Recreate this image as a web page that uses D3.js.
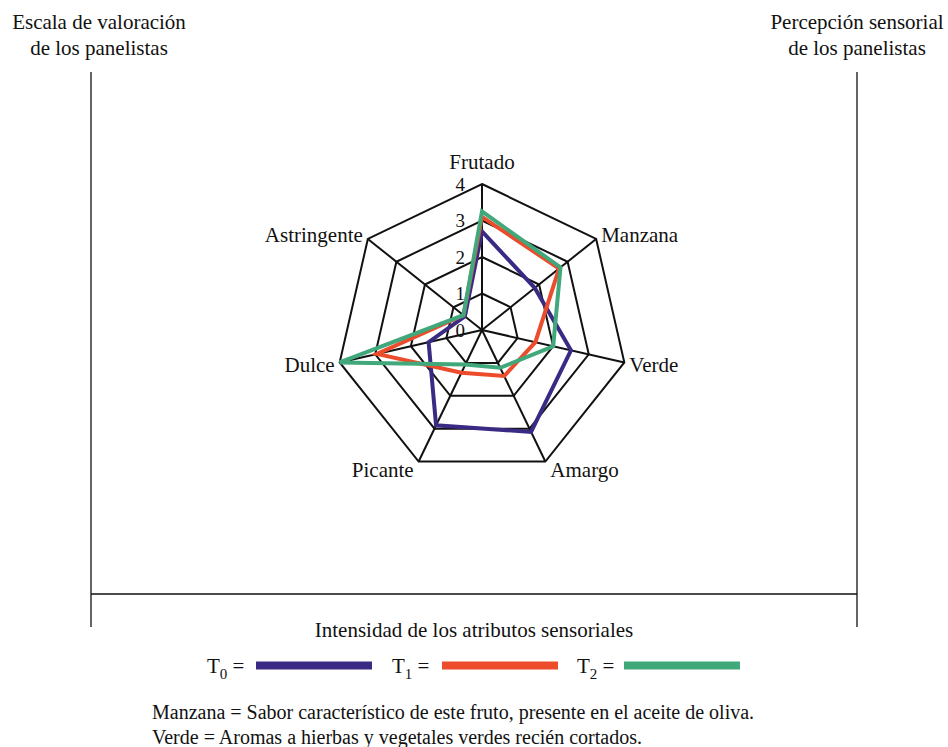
<!DOCTYPE html>
<html>
<head>
<meta charset="utf-8">
<script src="https://cdn.jsdelivr.net/npm/d3@7"></script>
<style>
  body { margin: 0; background: #fff; }
  svg text { font-family: "Liberation Serif", Tinos, "Times New Roman", "DejaVu Serif", serif; fill: #111; }
</style>
</head>
<body>
<div id="chart"></div>
<script>
// atributos (sentido horario desde arriba)
const attributes = ["Frutado", "Manzana", "Verde", "Amargo", "Picante", "Dulce", "Astringente"];
const levels = [1, 2, 3, 4];
const tickLabels = ["0", "1", "2", "3", "4"];

const seriesNames = ["T0", "T1", "T2"];
const t0 = [2.7, 1.85, 2.5, 3.1, 2.9, 1.5, 0.6];
const t1 = [3.1, 2.7, 1.5, 1.4, 1.3, 2.95, 0.65];
const t2 = [3.25, 2.75, 2.0, 1.15, 1.05, 4.0, 0.65];
const seriesColors = ["#3b2a84", "#ec4c2c", "#40a87a"];

const notes = [
  "Manzana = Sabor característico de este fruto, presente en el aceite de oliva.",
  "Verde = Aromas a hierbas y vegetales verdes recién cortados."
];

const width = 948, height = 747;
const cx = 482, cy = 330, R = 146;

const svg = d3.select("#chart").append("svg")
  .attr("width", width)
  .attr("height", height)
  .attr("viewBox", [0, 0, width, height]);

let r = d3.scaleLinear().domain([0, 4]).range([0, R]);
let angle = d3.scaleLinear().domain([0, attributes.length]).range([0, 2 * Math.PI]);

const px = (i, v) => cx + r(v) * Math.sin(angle(i));
const py = (i, v) => cy - r(v) * Math.cos(angle(i));

// marco
const frame = svg.append("g").attr("stroke", "#111").attr("stroke-width", 1.3);
frame.append("line").attr("x1", 91).attr("x2", 91).attr("y1", 72).attr("y2", 627);
frame.append("line").attr("x1", 857).attr("x2", 857).attr("y1", 72).attr("y2", 627);
frame.append("line").attr("x1", 91).attr("x2", 857).attr("y1", 594).attr("y2", 594);

// titulos superiores
const topLeft = svg.append("text").attr("text-anchor", "middle").attr("font-size", 21);
topLeft.append("tspan").attr("x", 99).attr("y", 29).text("Escala de valoración");
topLeft.append("tspan").attr("x", 99).attr("y", 55).text("de los panelistas");
const topRight = svg.append("text").attr("text-anchor", "middle").attr("font-size", 21);
topRight.append("tspan").attr("x", 857).attr("y", 29).text("Percepción sensorial");
topRight.append("tspan").attr("x", 857).attr("y", 55).text("de los panelistas");

// rejilla
const g = svg.append("g");
const radial = d3.lineRadial()
  .angle((d, i) => angle(i))
  .radius(d => r(d))
  .curve(d3.curveLinearClosed);

g.append("g")
  .attr("transform", `translate(${cx},${cy})`)
  .selectAll("path")
  .data(levels)
  .join("path")
  .attr("d", lv => radial(attributes.map(() => lv)))
  .attr("fill", "none")
  .attr("stroke", "#111")
  .attr("stroke-width", 2);

g.append("g")
  .selectAll("line")
  .data(attributes)
  .join("line")
  .attr("x1", cx).attr("y1", cy)
  .attr("x2", (d, i) => px(i, 4))
  .attr("y2", (d, i) => py(i, 4))
  .attr("stroke", "#111")
  .attr("stroke-width", 2);

// etiquetas de escala
g.append("g")
  .selectAll("text")
  .data(tickLabels)
  .join("text")
  .attr("x", cx - 17)
  .attr("y", d => cy - r(+d))
  .attr("dy", "0.35em")
  .attr("text-anchor", "end")
  .attr("font-size", 19)
  .text(d => d);

// series
const data = [t0, t1, t2];
g.append("g")
  .attr("transform", `translate(${cx},${cy})`)
  .selectAll("path")
  .data(data)
  .join("path")
  .attr("d", d => radial(d))
  .attr("fill", "none")
  .attr("stroke", (d, i) => seriesColors[i])
  .attr("stroke-width", 4)
  .attr("stroke-linejoin", "miter");

// nombres de atributos
g.append("g")
  .selectAll("text")
  .data(attributes)
  .join("text")
  .attr("font-size", 21)
  .attr("text-anchor", (d, i) => {
    let s = Math.sin(angle(i));
    return s > 0.1 ? "start" : (s < -0.1 ? "end" : "middle");
  })
  .attr("x", (d, i) => px(i, 4) + 5 * Math.sign(Math.round(Math.sin(angle(i)) * 10)))
  .attr("y", (d, i) => {
    let c = Math.cos(angle(i));
    return c > 0.9 ? py(i, 4) - 15 : py(i, 4) + 8 - 8 * c;
  })
  .text(d => d);

// eje inferior
svg.append("text")
  .attr("x", 474).attr("y", 637)
  .attr("text-anchor", "middle")
  .attr("font-size", 21)
  .text("Intensidad de los atributos sensoriales");

// leyenda
let legendX = d3.scalePoint().domain(seriesNames).range([207, 577]);
const legend = svg.append("g")
  .selectAll("g")
  .data(seriesNames)
  .join("g")
  .attr("transform", d => `translate(${legendX(d)},673)`);

const lt = legend.append("text").attr("font-size", 21);
lt.append("tspan").text("T");
lt.append("tspan").attr("font-size", 15).attr("dy", 6).text(d => d.slice(1));
lt.append("tspan").attr("dy", -6).text(" =");

legend.append("rect")
  .attr("x", (d, i) => [49, 50, 47][i])
  .attr("y", -11.5)
  .attr("width", 116)
  .attr("height", 8)
  .attr("fill", (d, i) => seriesColors[i]);

// notas
svg.append("g")
  .selectAll("text")
  .data(notes)
  .join("text")
  .attr("x", 152)
  .attr("y", (d, i) => 719 + i * 25)
  .attr("font-size", 20)
  .text(d => d);
</script>
</body>
</html>
